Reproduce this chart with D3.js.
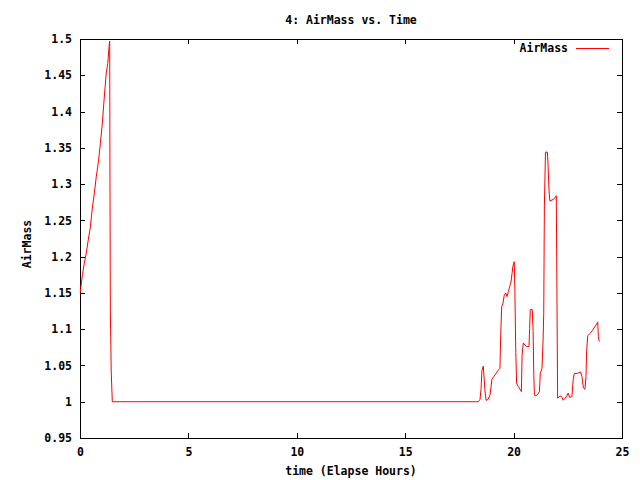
<!DOCTYPE html>
<html>
<head>
<meta charset="utf-8">
<script src="https://cdn.jsdelivr.net/npm/d3@7"></script>
<style>
  body { margin: 0; background: #fff; }
  text { font-family: "DejaVu Sans Mono", monospace; font-size: 11.5px; font-weight: bold; fill: #000; }
</style>
</head>
<body>
<div id="chart"></div>
<script>
// elapsed hours and airmass
const hours = [0.01, 0.11, 0.20, 0.29, 0.38, 0.48, 0.57, 0.66, 0.75, 0.85, 0.94, 1.03, 1.12, 1.21, 1.28, 1.34, 1.37,
  1.38, 1.40, 1.44, 1.49,
  18.37, 18.45, 18.50, 18.54, 18.60, 18.63, 18.68, 18.73, 18.82, 18.91, 18.96, 19.00, 19.10, 19.19, 19.28, 19.37,
  19.40, 19.45, 19.51, 19.57, 19.64, 19.70, 19.76, 19.82, 19.88, 19.93, 19.97, 20.03, 20.06, 20.10, 20.14, 20.22,
  20.30, 20.36, 20.39, 20.45, 20.53, 20.60, 20.71, 20.74, 20.77, 20.86, 20.90, 20.93, 20.96, 21.03, 21.13, 21.19,
  21.23, 21.31, 21.36, 21.39, 21.42, 21.47, 21.56, 21.59, 21.63, 21.67, 21.77, 21.88, 21.97, 22.00, 22.03, 22.14,
  22.22, 22.29, 22.38, 22.45, 22.52, 22.58, 22.69, 22.75, 22.80, 22.94, 23.09, 23.15, 23.22, 23.29, 23.34, 23.37,
  23.42, 23.52, 23.63, 23.74, 23.83, 23.88, 23.91, 23.95]
const airmass = [1.150, 1.175, 1.191, 1.205, 1.223, 1.241, 1.267, 1.287, 1.310, 1.331, 1.356, 1.384, 1.420, 1.453, 1.466, 1.489, 1.497,
  1.332, 1.124, 1.041, 1.000,
  1.000, 1.003, 1.018, 1.043, 1.049, 1.037, 1.015, 1.002, 1.003, 1.009, 1.021, 1.031, 1.035, 1.039, 1.043, 1.046,
  1.086, 1.131, 1.136, 1.147, 1.150, 1.145, 1.152, 1.159, 1.165, 1.177, 1.187, 1.193, 1.152, 1.068, 1.025, 1.021,
  1.017, 1.014, 1.064, 1.081, 1.078, 1.076, 1.076, 1.101, 1.127, 1.127, 1.097, 1.039, 1.009, 1.008, 1.011, 1.014,
  1.039, 1.046, 1.085, 1.122, 1.270, 1.344, 1.344, 1.326, 1.293, 1.277, 1.278, 1.280, 1.284, 1.143, 1.005, 1.008,
  1.007, 1.002, 1.005, 1.008, 1.012, 1.006, 1.007, 1.031, 1.039, 1.039, 1.041, 1.035, 1.019, 1.017, 1.035, 1.071,
  1.091, 1.094, 1.098, 1.103, 1.107, 1.110, 1.090, 1.083]

const xTicks = [0, 5, 10, 15, 20, 25]
const yTicks = [0.95, 1, 1.05, 1.1, 1.15, 1.2, 1.25, 1.3, 1.35, 1.4, 1.45, 1.5]
const yTickLabels = ['0.95', '1', '1.05', '1.1', '1.15', '1.2', '1.25', '1.3', '1.35', '1.4', '1.45', '1.5']

const width = 640, height = 480
const plotLeft = 80, plotRight = 622, plotTop = 39, plotBottom = 438

const svg = d3.select('#chart').append('svg')
  .attr('width', width)
  .attr('height', height)

const x = d3.scaleLinear().domain([0, 25]).range([plotLeft, plotRight])
const y = d3.scaleLinear().domain([0.95, 1.5]).range([plotBottom, plotTop])

// ticks point inward on all four sides, like gnuplot's mirror ticks
svg.append('g')
  .attr('transform', `translate(0,${plotBottom})`)
  .call(d3.axisBottom(x).tickValues(xTicks).tickSizeInner(-5).tickSizeOuter(0).tickPadding(10))
svg.append('g')
  .attr('transform', `translate(0,${plotTop})`)
  .call(d3.axisTop(x).tickValues(xTicks).tickSizeInner(-5).tickSizeOuter(0).tickFormat(''))
svg.append('g')
  .attr('transform', `translate(${plotLeft},0)`)
  .call(d3.axisLeft(y).tickValues(yTicks).tickSizeInner(-5).tickSizeOuter(0).tickPadding(8)
    .tickFormat((d, i) => yTickLabels[i]))
svg.append('g')
  .attr('transform', `translate(${plotRight},0)`)
  .call(d3.axisRight(y).tickValues(yTicks).tickSizeInner(-5).tickSizeOuter(0).tickFormat(''))

svg.selectAll('.domain').remove()
svg.selectAll('.tick line').attr('stroke', '#000').attr('shape-rendering', 'crispEdges')
svg.selectAll('g').attr('font-family', null).attr('font-size', null)

svg.append('rect')
  .attr('x', plotLeft + 0.5)
  .attr('y', plotTop + 0.5)
  .attr('width', plotRight - plotLeft)
  .attr('height', plotBottom - plotTop)
  .attr('fill', 'none')
  .attr('stroke', '#000')
  .attr('shape-rendering', 'crispEdges')

const pts = hours.map((h, i) => [h, airmass[i]])
const line = d3.line().x(d => x(d[0])).y(d => y(d[1]))

svg.append('path')
  .datum(pts)
  .attr('d', line)
  .attr('fill', 'none')
  .attr('stroke', '#ff0000')
  .attr('stroke-width', 1)

// title, axis labels, key
svg.append('text')
  .attr('x', (plotLeft + plotRight) / 2)
  .attr('y', 24)
  .attr('text-anchor', 'middle')
  .text('4: AirMass vs. Time')

svg.append('text')
  .attr('x', (plotLeft + plotRight) / 2)
  .attr('y', 475)
  .attr('text-anchor', 'middle')
  .text('time (Elapse Hours)')

svg.append('text')
  .attr('transform', 'translate(31,244) rotate(-90)')
  .attr('text-anchor', 'middle')
  .text('AirMass')

svg.append('text')
  .attr('x', 568)
  .attr('y', 52)
  .attr('text-anchor', 'end')
  .text('AirMass')

svg.append('line')
  .attr('x1', 576)
  .attr('y1', 48.5)
  .attr('x2', 609)
  .attr('y2', 48.5)
  .attr('stroke', '#ff0000')
  .attr('stroke-width', 1)
</script>
</body>
</html>
